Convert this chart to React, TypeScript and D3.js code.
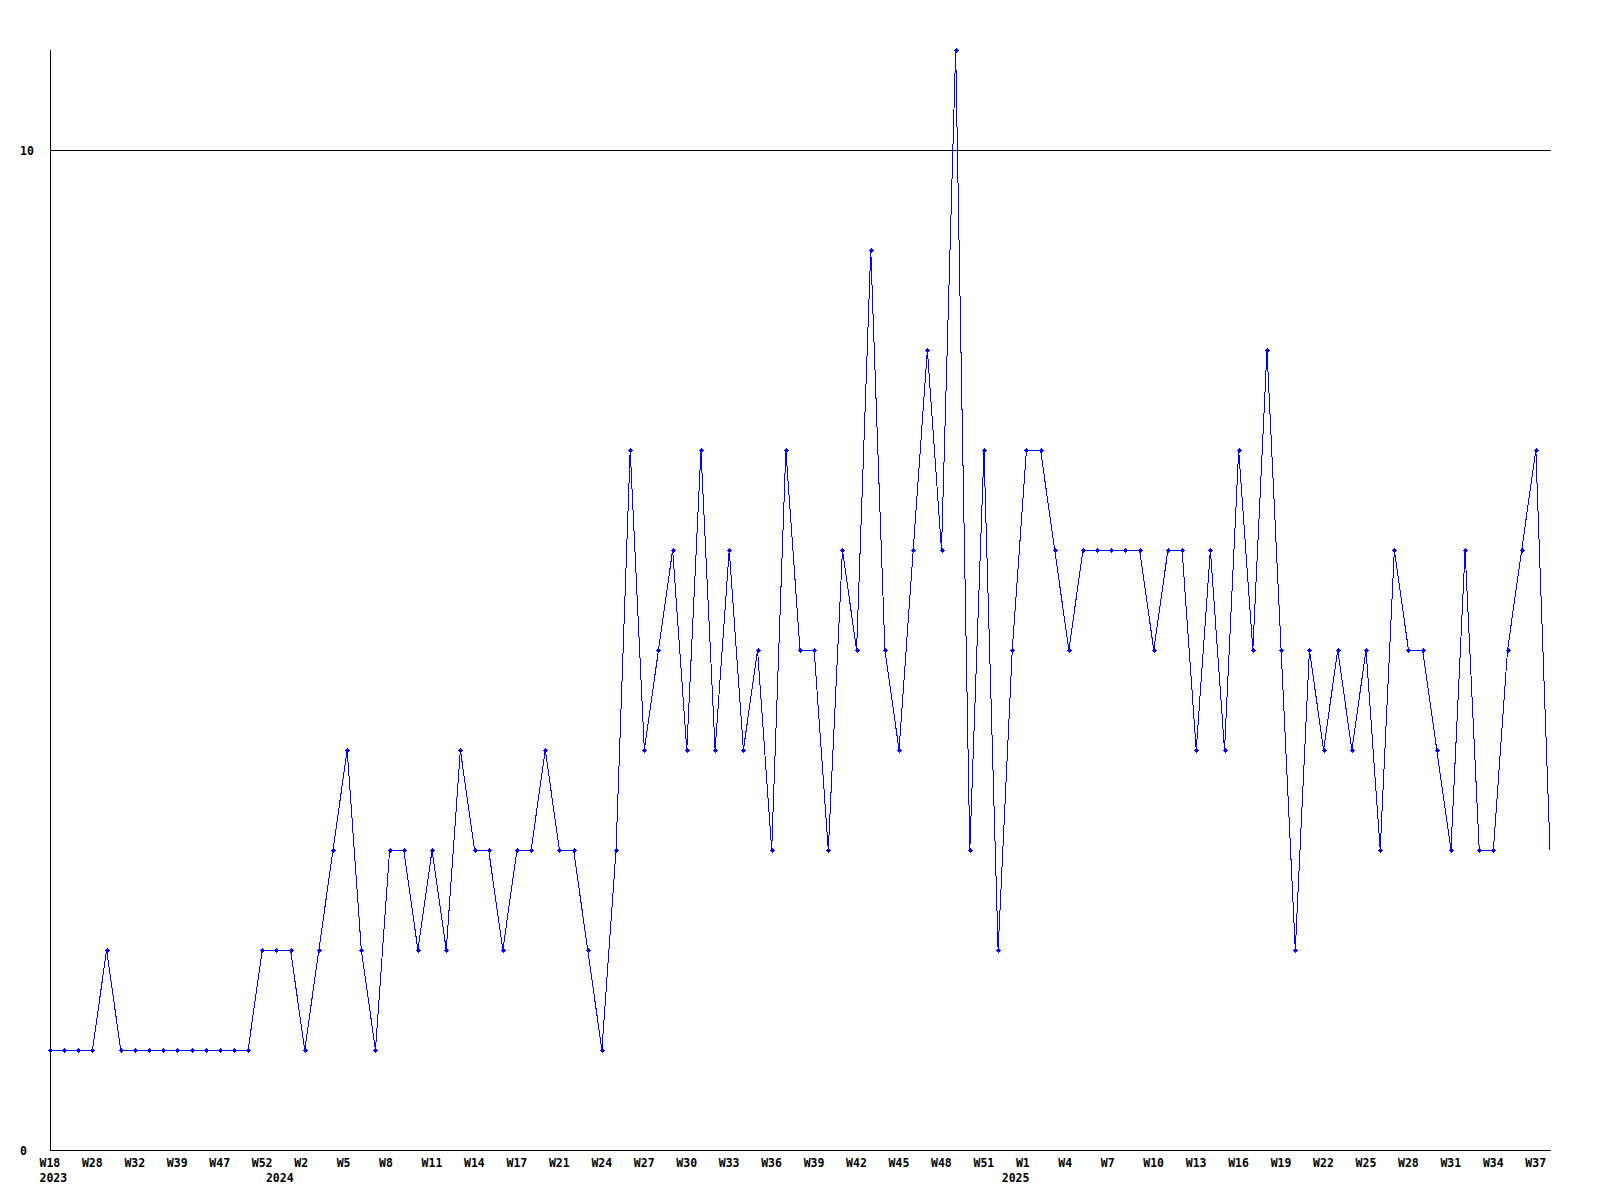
import { useEffect, useRef } from "react";
import * as d3 from "d3";

// weekly counts, one per data week (2023 W18 .. 2025 W38)
const values = [
  1, 1, 1, 1, 2, 1, 1, 1, 1, 1, 1, 1, 1, 1, 1, 2, 2, 2, 1, 2,
  3, 4, 2, 1, 3, 3, 2, 3, 2, 4, 3, 3, 2, 3, 3, 4, 3, 3, 2, 1,
  3, 7, 4, 5, 6, 4, 7, 4, 6, 4, 5, 3, 7, 5, 5, 3, 6, 5, 9, 5,
  4, 6, 8, 6, 11, 3, 7, 2, 5, 7, 7, 6, 5, 6, 6, 6, 6, 6, 5, 6,
  6, 4, 6, 4, 7, 5, 8, 5, 2, 5, 4, 5, 4, 5, 3, 6, 5, 5, 4, 3,
  6, 3, 3, 5, 6, 7, 3,
];

// a label is shown on every 3rd point
const weekTicks = [
  "W18", "W28", "W32", "W39", "W47", "W52", "W2", "W5", "W8", "W11", "W14", "W17",
  "W21", "W24", "W27", "W30", "W33", "W36", "W39", "W42", "W45", "W48", "W51", "W1",
  "W4", "W7", "W10", "W13", "W16", "W19", "W22", "W25", "W28", "W31", "W34", "W37",
];
const tickStep = 3;

const years = ["2023", "2024", "2025"];
const yearStart = [0, 16, 68];

const yTicks = [0, 10];

const App = () => {
  const chartRef = useRef<HTMLDivElement>(null);

  useEffect(() => {
    const width = 1600;
    const height = 1200;
    const margin = { top: 50, right: 50, bottom: 50, left: 50 };
    const font = "'DejaVu Sans Mono', monospace";

    const svg = d3
      .select(chartRef.current)
      .append("svg")
      .attr("width", width)
      .attr("height", height)
      .style("display", "block")
      .style("background", "#fff");

    const xScale = d3
      .scaleLinear()
      .domain([0, values.length - 1])
      .range([margin.left, width - margin.right]);

    const yScale = d3
      .scaleLinear()
      .domain([0, 11])
      .range([height - margin.bottom, margin.top]);

    // grid line(s) above zero
    svg
      .selectAll("line.grid")
      .data(yTicks.filter((d) => d > 0))
      .enter()
      .append("line")
      .attr("class", "grid")
      .attr("x1", margin.left)
      .attr("x2", width - margin.right + 1)
      .attr("y1", (d) => yScale(d) + 0.5)
      .attr("y2", (d) => yScale(d) + 0.5)
      .attr("stroke", "#000")
      .attr("shape-rendering", "crispEdges");

    // axes
    svg
      .append("path")
      .attr(
        "d",
        `M${margin.left + 0.5},${margin.top}V${yScale(0) + 0.5}H${width - margin.right + 1}`
      )
      .attr("fill", "none")
      .attr("stroke", "#000")
      .attr("shape-rendering", "crispEdges");

    // y labels
    svg
      .selectAll("text.ylab")
      .data(yTicks)
      .enter()
      .append("text")
      .attr("class", "ylab")
      .attr("x", 20)
      .attr("y", (d) => yScale(d) + 4.5)
      .style("font-family", font)
      .style("font-weight", "bold")
      .style("font-size", "11.5px")
      .text((d) => d);

    // x labels
    svg
      .selectAll("text.xlab")
      .data(weekTicks)
      .enter()
      .append("text")
      .attr("class", "xlab")
      .attr("x", (_d, i) => xScale(i * tickStep) - 10.5)
      .attr("y", 1166.5)
      .style("font-family", font)
      .style("font-weight", "bold")
      .style("font-size", "11.5px")
      .text((d) => d);

    svg
      .selectAll("text.year")
      .data(years)
      .enter()
      .append("text")
      .attr("class", "year")
      .attr("x", (_d, i) => xScale(yearStart[i]) - 10.5)
      .attr("y", 1181.5)
      .style("font-family", font)
      .style("font-weight", "bold")
      .style("font-size", "11.5px")
      .text((d) => d);

    // data line
    const line = d3
      .line<number>()
      .x((_d, i) => xScale(i))
      .y((d) => yScale(d));

    svg
      .append("path")
      .datum(values)
      .attr("d", line)
      .attr("fill", "none")
      .attr("stroke", "#0000ff")
      .attr("stroke-width", 1)
      .attr("shape-rendering", "crispEdges");

    // markers (last point has none)
    const cross = (cx: number, cy: number) => {
      const x = Math.round(cx);
      const y = Math.round(cy);
      return (
        `M${x - 2},${y - 0.5}h5v1.5h-5z` +
        `M${x - 0.5},${y - 2}h1.5v5h-1.5z` +
        `M${x - 1},${y - 1}h3v3h-3z`
      );
    };
    svg
      .selectAll("path.mark")
      .data(values.slice(0, values.length - 1))
      .enter()
      .append("path")
      .attr("class", "mark")
      .attr("d", (d, i) => cross(xScale(i), yScale(d)))
      .attr("fill", "#0000ff")
      .attr("shape-rendering", "crispEdges");

    return () => {
      // eslint-disable-next-line react-hooks/exhaustive-deps
      d3.select(chartRef.current).selectAll("*").remove();
    };
  }, []);

  return (
    <div
      ref={chartRef}
      style={{ position: "absolute", left: 0, top: 0 }}
    ></div>
  );
};

export default App;
